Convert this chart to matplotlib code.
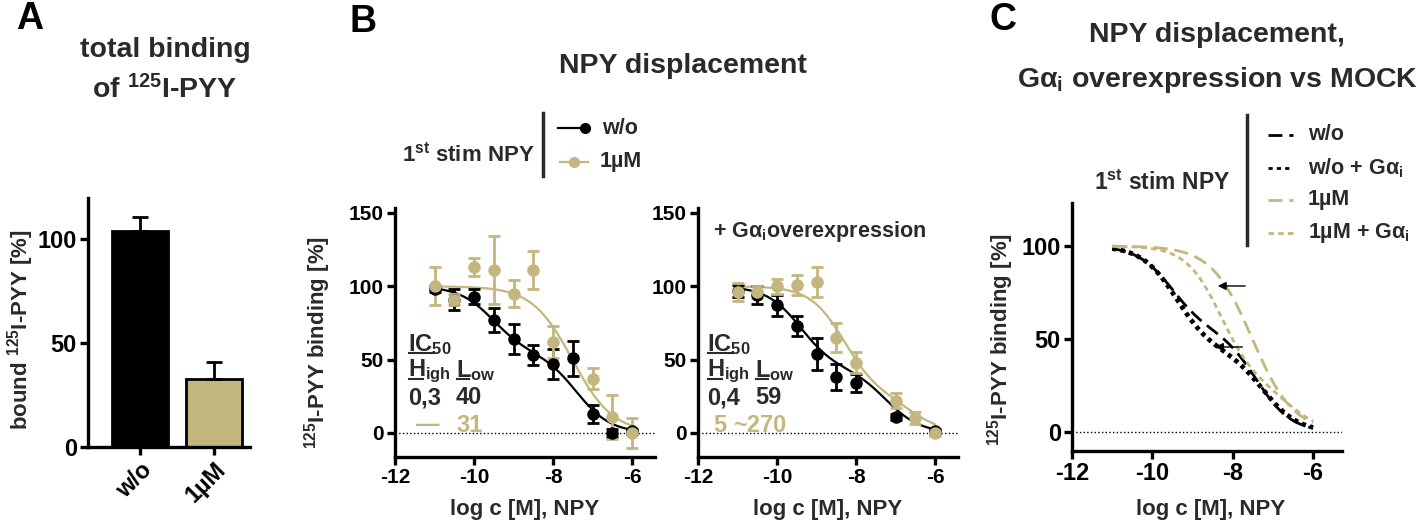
import numpy as np
import matplotlib
matplotlib.use('Agg')
import matplotlib.pyplot as plt

plt.rcParams['font.family'] = ['Liberation Sans', 'DejaVu Sans']
plt.rcParams['font.weight'] = 'bold'
plt.rcParams['axes.unicode_minus'] = False
plt.rcParams['mathtext.fontset'] = 'custom'
plt.rcParams['mathtext.rm'] = 'Liberation Sans:bold'
plt.rcParams['mathtext.bf'] = 'Liberation Sans:bold'
plt.rcParams['mathtext.it'] = 'Liberation Sans:bold:italic'
plt.rcParams['mathtext.default'] = 'rm'

TAN = '#C3B67F'
DARK = '#2a2a2a'

# ---- data ----
# A: total binding
bar_labels = ['w/o', '1µM']
bar_values = [104, 33]
bar_errors = [7, 8]

# B left: NPY displacement, MOCK
x_wo_left = [-11, -10.5, -10, -9.5, -9, -8.5, -8, -7.5, -7, -6.5, -6]
y_wo_left = [98, 91, 93, 77, 64, 53, 47, 51, 13, 0, 1]
e_wo_left = [2, 7, 5, 8, 10, 7, 10, 12, 6, 3, 2]
x_1uM_left = [-11, -10.5, -10, -9.5, -9, -8.5, -8, -7, -6.5, -6]
y_1uM_left = [100, 91, 113, 111, 95, 111, 62, 37, 11, 0]
e_1uM_left = [13, 4, 6, 23, 9, 13, 11, 7, 15, 10]

# B right: NPY displacement, + Galpha_i overexpression
x_wo_right = [-11, -10.5, -10, -9.5, -9, -8.5, -8, -7, -6]
y_wo_right = [97, 94, 87, 73, 54, 38, 34, 11, 1]
e_wo_right = [4, 6, 7, 7, 11, 9, 6, 2, 2]
x_1uM_right = [-11, -10.5, -10, -9.5, -9, -8.5, -8, -7, -6.5, -6]
y_1uM_right = [96, 96, 100, 101, 103, 65, 48, 22, 10, 0]
e_1uM_right = [6, 4, 5, 7, 10, 10, 7, 5, 4, 2]

# fitted parameters (log IC50 high, log IC50 low, fraction high, hill)
fit_wo_left = (-9.52, -7.40, 0.45, 1.0)      # 0,3 nM / 40 nM
fit_1uM_left = (-9.0, -7.51, 0.0, 0.85)      # - / 31 nM
fit_wo_right = (-9.40, -7.23, 0.56, 1.0)     # 0,4 nM / 59 nM
fit_1uM_right = (-8.30, -6.57, 0.74, 1.0)    # 5 nM / ~270 nM


def dose_response(x, log_hi, log_lo, frac, hill):
    return 100 * (frac / (1 + 10 ** ((x - log_hi) * hill)) +
                  (1 - frac) / (1 + 10 ** ((x - log_lo) * hill)))


xs = np.linspace(-11, -6, 300)

W, H = 1418, 525
fig = plt.figure(figsize=(W / 100, H / 100), dpi=100)


def px_axes(x0, y0, x1, y1):
    return fig.add_axes([x0 / W, 1 - y1 / H, (x1 - x0) / W, (y1 - y0) / H])


def style(ax, size):
    for s in ['top', 'right']:
        ax.spines[s].set_visible(False)
    for s in ['left', 'bottom']:
        ax.spines[s].set_linewidth(2.4)
    ax.tick_params(width=2.4, length=6, labelsize=size, pad=2)
    for lab in ax.get_xticklabels() + ax.get_yticklabels():
        lab.set_fontweight('bold')


# ---- panel A ----
axA = px_axes(88, 198, 250, 447)
xa = np.arange(len(bar_labels))
axA.bar(xa, bar_values, width=0.76, color=['black', TAN], edgecolor='black', linewidth=2)
axA.errorbar(xa, bar_values, yerr=[[0, 0], bar_errors], fmt='none', ecolor='black',
             elinewidth=2, capsize=6, capthick=2)
axA.set_xlim(-0.703, 1.486)
axA.set_ylim(0, 120)
axA.set_yticks([0, 50, 100])
axA.set_xticks(xa)
axA.set_xticklabels(bar_labels, rotation=45, ha='right', rotation_mode='anchor')
style(axA, 17)


# ---- panel B ----
def panel_b(ax, xw, yw, ew, xt, yt, et, fw, ft):
    ax.axhline(0, color='black', ls=':', lw=1)
    ax.plot(xs, dose_response(xs, *fw), color='black', lw=1.6)
    ax.plot(xs, dose_response(xs, *ft), color=TAN, lw=1.6)
    ax.errorbar(xw, yw, yerr=ew, fmt='o', color='black', ms=8, elinewidth=2,
                capsize=4, capthick=2)
    ax.errorbar(xt, yt, yerr=et, fmt='o', color=TAN, ms=8, elinewidth=2,
                capsize=4, capthick=2)
    ax.set_xlim(-12, -5.42)
    ax.set_ylim(-16.4, 153.4)
    ax.set_xticks([-12, -10, -8, -6])
    ax.set_yticks([0, 50, 100, 150])
    style(ax, 15)


axB1 = px_axes(395, 208, 655, 457)
panel_b(axB1, x_wo_left, y_wo_left, e_wo_left, x_1uM_left, y_1uM_left, e_1uM_left,
        fit_wo_left, fit_1uM_left)
axB2 = px_axes(698, 208, 958, 457)
panel_b(axB2, x_wo_right, y_wo_right, e_wo_right, x_1uM_right, y_1uM_right, e_1uM_right,
        fit_wo_right, fit_1uM_right)

# ---- panel C ----
axC = px_axes(1072, 203, 1342, 451)
axC.axhline(0, color='black', ls=':', lw=1)
axC.plot(xs, dose_response(xs, *fit_wo_left), color='black', lw=2, ls=(0, (5, 2.5)))
axC.plot(xs, dose_response(xs, *fit_wo_right), color='black', lw=3.4, ls=(0, (0.9, 0.9)))
axC.plot(xs, dose_response(xs, *fit_1uM_left), color=TAN, lw=2, ls=(0, (5, 2.5)))
axC.plot(xs, dose_response(xs, *fit_1uM_right), color=TAN, lw=2, ls=(0, (2, 1.5)))
axC.annotate('', xy=(-8.44, 78.5), xytext=(-7.62, 78.5),
             arrowprops=dict(arrowstyle='-|>', color='black', lw=1, mutation_scale=12))
axC.annotate('', xy=(-8.51, 45.7), xytext=(-7.69, 45.7),
             arrowprops=dict(arrowstyle='-|>', color='black', lw=1, mutation_scale=12))
axC.set_xlim(-12, -5.28)
axC.set_ylim(-10.2, 123.1)
axC.set_xticks([-12, -10, -8, -6])
axC.set_yticks([0, 50, 100])
style(axC, 17)

# ---- overlay for titles, labels and legends (pixel coordinates) ----
ov = fig.add_axes([0, 0, 1, 1])
ov.set_xlim(0, W)
ov.set_ylim(H, 0)
ov.axis('off')
ov.patch.set_visible(False)


def put(x, y, s, size, color=DARK, ha='center', **kw):
    ov.text(x, y, s, fontsize=size, color=color, ha=ha, va='center',
            fontweight='bold', **kw)


# panel letters
put(30, 19, 'A', 27, color='black')
put(363, 22, 'B', 27, color='black')
put(1003, 20, 'C', 27, color='black')

# titles
put(165, 50, 'total binding', 20.5)
put(165, 90, 'of $^{125}$I-PYY', 20.5)
put(683, 66, 'NPY displacement', 20.5)
put(1217, 35, 'NPY displacement,', 20.5)
put(1218, 80, r'G$\alpha_{\mathrm{i}}$ overexpression vs MOCK', 20.5)

# axis labels
put(21, 330, 'bound $^{125}$I-PYY [%]', 16, rotation=90)
put(318, 343, '$^{125}$I-PYY binding [%]', 16, rotation=90)
put(1001, 340, '$^{125}$I-PYY binding [%]', 16, rotation=90)
put(525, 510, 'log c [M], NPY', 16)
put(828, 510, 'log c [M], NPY', 16)
put(1211, 510, 'log c [M], NPY', 16)

# legend B
put(535, 155, '1$^{\\mathrm{st}}$ stim NPY', 16, ha='right')
ov.plot([543, 543], [113, 176], color=DARK, lw=2.5)
ov.plot([558, 585], [128, 128], color='black', lw=1.6, marker='o', markevery=[1], ms=7)
ov.plot([560, 574, 588], [162, 162, 162], color=TAN, lw=1.6, marker='o', markevery=[1], ms=7)
put(602, 128, 'w/o', 15.5, ha='left')
put(600, 162, '1µM', 15.5, ha='left')

# IC50 annotations in B
for x0, xl, hi, lo, hi_t, lo_t, xt_hi, xt_lo in [
        (408, 456, '0,3', '40', '\u2014', '31', 416, 456),
        (707, 755, '0,4', '59', '5', '~270', 713, 733)]:
    put(x0, 345, 'IC$_{\\mathrm{50}}$', 17, ha='left')
    ov.plot([x0 + 1, x0 + 26], [353, 353], color=DARK, lw=1.5)
    put(x0, 371, 'H$_{\\mathrm{igh}}$', 17, ha='left')
    ov.plot([x0 + 1, x0 + 15], [379, 379], color=DARK, lw=1.5)
    put(xl, 371, 'L$_{\\mathrm{ow}}$', 17, ha='left')
    ov.plot([xl + 1, xl + 13], [379, 379], color=DARK, lw=1.5)
    put(x0, 398, hi, 17, ha='left')
    put(xl, 398, lo, 17, ha='left')
    put(xt_hi, 425, hi_t, 17, color=TAN, ha='left')
    put(xt_lo, 425, lo_t, 17, color=TAN, ha='left')

put(713, 232, r'+ G$\alpha_{\mathrm{i}}$overexpression', 15.5, ha='left')

# legend C
put(1230, 183, '1$^{\\mathrm{st}}$ stim NPY', 16.5, ha='right')
ov.plot([1247, 1247], [115, 245], color=DARK, lw=2.5)
c_labels = ['w/o', r'w/o + G$\alpha_{\mathrm{i}}$', '1µM', r'1µM + G$\alpha_{\mathrm{i}}$']
c_styles = [('black', (0, (5, 2.5)), 2), ('black', (0, (1.5, 1.5)), 2),
            (TAN, (0, (5, 2.5)), 2), (TAN, (0, (2, 1.5)), 2)]
for yy, lab, (col, ls, lw) in zip([135, 168, 200, 233], c_labels, c_styles):
    ov.plot([1268, 1293], [yy, yy], color=col, ls=ls, lw=lw)
    put(1308, yy, lab, 15.5, ha='left')

fig.savefig('out.png', dpi=100)
